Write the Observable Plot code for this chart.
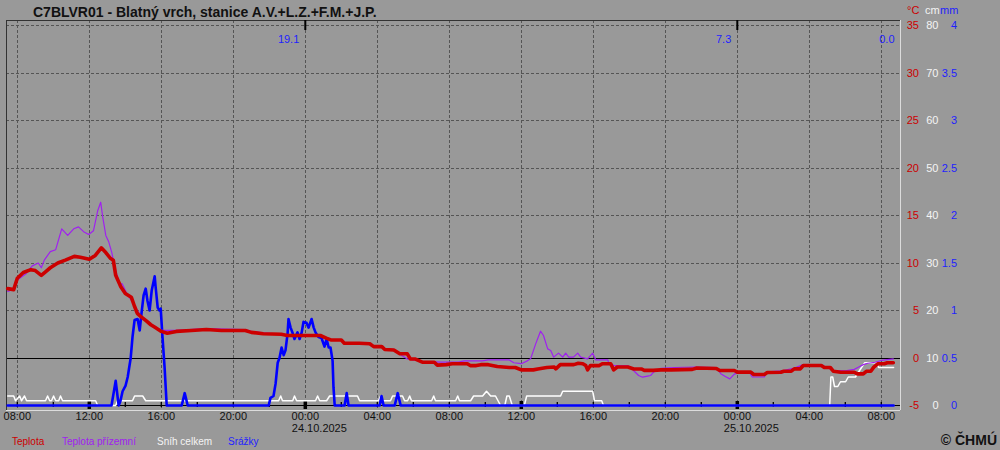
<!DOCTYPE html>
<html><head><meta charset="utf-8">
<script src="https://cdn.jsdelivr.net/npm/d3@7"></script>
<script src="https://cdn.jsdelivr.net/npm/@observablehq/plot@0.6"></script>
<style>
body{margin:0;background:#999;font-family:"Liberation Sans",Arial,sans-serif}
#wrap{width:1000px;height:450px;background:#999;overflow:hidden}
#top{position:relative;height:19px}
#title{position:absolute;left:33px;top:4px;font-weight:bold;font-size:14px;line-height:16px;color:#111;white-space:nowrap}
.unit{position:absolute;top:4px;font-size:11px;line-height:12px}
#chart{height:414px}
#chart svg{display:block}
#legend{position:relative;height:17px}
.lg{position:absolute;top:3px;font-size:10px;line-height:12px;white-space:nowrap}
#copy{position:absolute;right:3px;top:0;font-weight:bold;font-size:14px;line-height:14px;color:#111}
</style></head>
<body>
<div id="wrap">
  <div id="top">
    <div id="title">C7BLVR01 - Blatný vrch, stanice A.V.+L.Z.+F.M.+J.P.</div>
    <span class="unit" style="left:907px;color:#cc0000">°C</span>
    <span class="unit" style="left:925px;color:#f4f4f4">cm</span>
    <span class="unit" style="left:940px;color:#1f1fff">mm</span>
  </div>
  <div id="chart"></div>
  <div id="legend">
    <span class="lg" style="left:12px;color:#cc0000">Teplota</span>
    <span class="lg" style="left:62px;color:#a020f0">Teplota přízemní</span>
    <span class="lg" style="left:157px;color:#f4f4f4">Sníh celkem</span>
    <span class="lg" style="left:228px;color:#1f1fff">Srážky</span>
    <span id="copy">© ČHMÚ</span>
  </div>
</div>
<script>
// ---- data (times: "DD HH:MM", October 2025) ----
const teplota = [
["23 07:28",7.3],["23 07:48",7.2],["23 08:00",8.4],["23 08:20",9.0],["23 08:45",9.3],["23 09:00",9.2],["23 09:20",8.7],["23 09:35",9.1],["23 09:50",9.5],["23 10:15",10.0],["23 10:40",10.3],["23 11:10",10.7],["23 11:30",10.6],["23 12:00",10.4],["23 12:20",10.8],["23 12:40",11.6],["23 12:55",11.1],["23 13:10",10.5],["23 13:20",10.3],["23 13:28",8.7],["23 13:35",8.2],["23 13:45",7.5],["23 14:00",6.8],["23 14:20",6.4],["23 14:30",5.5],["23 14:40",4.7],["23 14:50",4.4],["23 15:10",3.9],["23 15:25",3.5],["23 15:40",3.2],["23 16:00",2.8],["23 16:20",2.6],["23 16:50",2.8],["23 17:40",2.9],["23 18:30",3.0],["23 19:20",2.9],["23 20:40",2.9],["23 21:00",2.7],["23 21:40",2.55],["23 22:40",2.5],["23 23:00",2.37],["24 00:50",2.37],["24 01:10",2.09],["24 01:25",1.9],["24 02:00",1.9],["24 02:10",1.56],["24 03:00",1.56],["24 03:35",1.5],["24 03:48",1.2],["24 04:15",1.2],["24 04:25",0.9],["24 04:55",0.85],["24 05:15",0.44],["24 05:40",0.44],["24 05:50",-0.1],["24 06:05",-0.1],["24 06:30",-0.44],["24 07:10",-0.45],["24 07:20",-0.75],["24 07:50",-0.7],["24 08:10",-0.6],["24 09:00",-0.6],["24 09:10",-0.8],["24 09:30",-0.8],["24 09:45",-0.7],["24 10:10",-0.7],["24 10:40",-0.9],["24 11:20",-1.0],["24 11:40",-1.0],["24 12:00",-1.25],["24 12:40",-1.25],["24 12:55",-1.15],["24 13:25",-1.0],["24 13:50",-0.95],["24 13:55",-1.15],["24 14:10",-0.7],["24 14:55",-0.7],["24 15:10",-0.55],["24 15:25",-0.6],["24 15:35",-0.8],["24 15:41",-1.25],["24 15:50",-0.8],["24 16:20",-0.8],["24 16:30",-0.6],["24 16:58",-0.6],["24 17:08",-1.25],["24 17:20",-0.95],["24 17:55",-0.95],["24 18:15",-1.15],["24 18:40",-1.15],["24 18:50",-1.3],["24 19:20",-1.3],["24 19:45",-1.25],["24 20:20",-1.25],["24 21:30",-1.2],["24 21:45",-1.05],["24 22:50",-1.1],["24 23:00",-1.3],["24 23:50",-1.32],["25 00:00",-1.49],["25 00:45",-1.49],["25 00:55",-1.74],["25 01:30",-1.74],["25 01:40",-1.53],["25 02:25",-1.5],["25 02:35",-1.39],["25 03:00",-1.39],["25 03:10",-1.14],["25 03:30",-1.14],["25 03:40",-0.79],["25 04:40",-0.79],["25 04:50",-1.0],["25 05:10",-1.0],["25 05:20",-1.39],["25 05:45",-1.5],["25 06:30",-1.5],["25 06:40",-1.67],["25 07:00",-1.67],["25 07:10",-1.4],["25 07:25",-1.4],["25 07:35",-0.96],["25 07:48",-0.61],["25 08:10",-0.61],["25 08:20",-0.5],["25 08:40",-0.5]
];
const teplotaPrizemni = [
["23 07:28",7.0],["23 07:45",7.2],["23 08:00",8.2],["23 08:30",8.9],["23 08:50",9.7],["23 09:10",10.0],["23 09:20",9.5],["23 09:30",10.3],["23 09:50",11.2],["23 10:08",11.4],["23 10:28",13.6],["23 10:48",12.9],["23 11:08",13.6],["23 11:24",13.8],["23 11:41",13.3],["23 11:58",13.0],["23 12:14",13.4],["23 12:28",15.5],["23 12:38",16.4],["23 12:44",15.0],["23 12:55",12.9],["23 13:05",12.2],["23 13:15",11.1],["23 13:25",9.5],["23 13:40",7.9],["23 13:50",7.8],["23 14:05",6.8],["23 14:30",5.6],["23 14:50",4.5],["23 15:25",3.6],["23 16:00",2.9],["23 16:50",2.9],["23 18:30",3.1],["23 20:40",3.0],["23 21:00",2.8],["23 21:40",2.65],["23 23:00",2.45],["24 00:50",2.45],["24 01:10",2.15],["24 01:25",1.95],["24 02:00",1.95],["24 02:10",1.6],["24 03:00",1.6],["24 03:35",1.55],["24 03:48",1.25],["24 04:15",1.25],["24 04:25",0.95],["24 04:55",0.9],["24 05:15",0.4],["24 05:40",-0.1],["24 06:00",-0.2],["24 06:30",-0.35],["24 07:30",-0.44],["24 08:30",-0.44],["24 08:50",-0.3],["24 09:50",-0.3],["24 10:10",-0.2],["24 11:20",-0.2],["24 11:35",-0.5],["24 12:00",-0.6],["24 12:20",-0.3],["24 12:31",-0.09],["24 12:48",1.49],["24 13:04",2.82],["24 13:14",2.37],["24 13:28",0.96],["24 13:38",0.79],["24 13:48",0.09],["24 14:04",0.51],["24 14:18",0.09],["24 14:28",0.51],["24 14:38",0.09],["24 14:54",0.09],["24 15:08",0.51],["24 15:18",0.09],["24 15:41",-0.09],["24 15:58",0.51],["24 16:08",-0.19],["24 16:48",-0.19],["24 16:51",-0.44],["24 17:08",-0.79],["24 17:54",-0.79],["24 18:04",-0.96],["24 18:14",-1.32],["24 18:31",-1.84],["24 18:44",-2.02],["24 19:01",-1.9],["24 19:11",-1.84],["24 19:21",-1.49],["24 19:28",-1.32],["24 19:45",-1.1],["24 20:30",-1.0],["24 21:40",-0.95],["24 22:50",-1.0],["24 23:05",-1.65],["24 23:20",-1.95],["24 23:35",-2.2],["24 23:50",-1.7],["25 00:10",-1.5],["25 00:40",-1.5],["25 00:50",-2.0],["25 01:30",-2.0],["25 01:40",-1.45],["25 02:30",-1.35],["25 03:10",-1.05],["25 03:40",-0.7],["25 04:40",-0.7],["25 04:55",-0.95],["25 05:20",-1.3],["25 06:00",-1.35],["25 06:30",-1.2],["25 06:45",-0.95],["25 07:00",-0.7],["25 07:15",-0.55],["25 07:40",-0.45],["25 08:00",-0.26],["25 08:40",-0.1]
];
const snihCelkem = [
["23 07:28",2],["23 07:48",2],["23 07:54",1],["23 08:08",2],["23 08:14",1],["23 08:24",2],["23 08:31",1],["23 09:34",1],["23 09:41",2],["23 09:48",1],["23 09:54",1],["23 10:01",2],["23 10:08",1],["23 10:18",1],["23 10:24",2],["23 10:31",1],["23 12:21",1],["23 12:28",0],["23 13:28",0],["23 13:34",1],["23 14:24",1],["23 14:31",2],["23 14:58",2],["23 15:08",1],["23 22:31",1],["23 22:38",2],["23 22:44",1],["23 23:18",1],["23 23:24",2],["23 23:31",1],["24 00:34",1],["24 00:41",2],["24 00:48",1],["24 01:11",1],["24 01:21",2],["24 02:54",2],["24 03:01",1],["24 04:04",1],["24 04:11",2],["24 04:18",1],["24 04:44",1],["24 04:51",2],["24 05:24",2],["24 05:31",1],["24 05:41",1],["24 05:48",2],["24 05:54",1],["24 07:01",1],["24 07:08",2],["24 07:14",1],["24 08:21",1],["24 08:28",2],["24 08:34",1],["24 09:11",1],["24 09:21",2],["24 09:51",2],["24 10:04",3],["24 10:18",2],["24 10:34",2],["24 10:51",0],["24 11:05",0],["24 11:12",2],["24 11:20",2],["24 11:30",0],["24 12:10",0],["24 12:18",2],["24 14:11",2],["24 14:18",3],["24 15:58",3],["24 16:04",1],["24 16:28",1],["24 16:34",0],["25 05:08",0],["25 05:12",6],["25 05:18",6],["25 05:24",4],["25 05:35",4],["25 05:44",5],["25 06:01",5],["25 06:10",6],["25 06:34",6],["25 06:44",7],["25 06:54",8],["25 07:05",9],["25 07:44",9],["25 07:51",8],["25 08:41",8]
];
const srazky = [
["23 07:28",0],["23 13:14",0],["23 13:21",0.13],["23 13:28",0.26],["23 13:34",0.1],["23 13:38",0],["23 13:44",0.05],["23 13:51",0.15],["23 14:01",0.21],["23 14:08",0.3],["23 14:18",0.5],["23 14:24",0.72],["23 14:31",0.9],["23 14:41",0.91],["23 14:48",0.79],["23 14:54",0.97],["23 15:01",1.16],["23 15:08",1.23],["23 15:14",1.1],["23 15:21",1.0],["23 15:28",1.21],["23 15:38",1.36],["23 15:41",1.25],["23 15:48",1.03],["23 15:54",1.0],["23 15:58",1.02],["23 16:04",0.72],["23 16:11",0.4],["23 16:18",0],["23 17:08",0],["23 17:18",0.13],["23 17:28",0],["23 21:58",0],["23 22:04",0.08],["23 22:14",0.1],["23 22:21",0.23],["23 22:28",0.45],["23 22:34",0.5],["23 22:41",0.61],["23 22:48",0.53],["23 22:54",0.58],["23 23:01",0.76],["23 23:04",0.91],["23 23:11",0.82],["23 23:18",0.76],["23 23:24",0.7],["23 23:34",0.77],["23 23:41",0.7],["23 23:48",0.77],["23 23:54",0.88],["24 00:04",0.87],["24 00:11",0.82],["24 00:21",0.91],["24 00:28",0.82],["24 00:34",0.77],["24 00:44",0.72],["24 00:54",0.71],["24 01:04",0.62],["24 01:11",0.7],["24 01:18",0.61],["24 01:24",0.61],["24 01:31",0.47],["24 01:34",0.19],["24 01:38",0],["24 02:11",0],["24 02:18",0.13],["24 02:24",0],["24 04:08",0],["24 04:14",0.1],["24 04:21",0],["24 04:58",0],["24 05:08",0.13],["24 05:18",0],["25 08:41",0]
];
const precipDayEnds = ["24 00:00","25 00:00","26 00:00"];
const precipDayTotals = ["19.1","7.3","0.0"];
const tempTicks = [-5,0,5,10,15,20,25,30,35];
const cmTicks = [0,10,20,30,40,50,60,70,80];
const mmTicks = [0,0.5,1,1.5,2,2.5,3,3.5,4];
const timeStart = "23 07:24", timeEnd = "25 09:04";

// ---- build ----
const parse = s => new Date(`2025-10-${s.slice(0,2)}T${s.slice(3)}:00Z`);
const rows = arr => arr.map(([t, v]) => ({t: parse(t), v}));
const xStart = parse(timeStart), xEnd = parse(timeEnd);
const pad = 5 / 9.5;
const yMin = tempTicks[0] - pad, yMax = tempTicks[tempTicks.length - 1] + pad;
const cmToT = c => c / 2 - 5;       // 0 cm -> -5 °C, 80 cm -> 35 °C
const mmToT = m => m * 10 - 5;      // 0 mm -> -5 °C, 4 mm -> 35 °C

const grid4h = d3.utcHour.every(4).range(xStart, xEnd);
const ticks2h = d3.utcHour.every(2).range(xStart, xEnd);
const ticks12h = d3.utcHour.every(12).range(xStart, xEnd);
const midnights = d3.utcDay.range(xStart, xEnd);
const fmtHM = d3.utcFormat("%H:%M");
const fmtDate = d3.utcFormat("%d.%m.%Y");
const dailyTotals = precipDayEnds.map((d, i) => ({t: new Date(Math.min(+parse(d), +xEnd)), label: precipDayTotals[i]}));

const FONT = '"Liberation Sans", Arial, sans-serif';
const grid = {stroke: "#555", strokeDasharray: "3,2", strokeWidth: 1, shapeRendering: "crispEdges"};

const chart = Plot.plot({
  width: 1000, height: 414,
  marginLeft: 6, marginRight: 100, marginTop: 1, marginBottom: 23,
  style: {background: "transparent", fontFamily: FONT, overflow: "visible"},
  x: {type: "utc", domain: [xStart, xEnd], axis: null},
  y: {domain: [yMin, yMax], axis: null},
  marks: [
    Plot.ruleY(tempTicks.filter(d => d > 0), grid),
    Plot.ruleX(grid4h, {x: d => d, ...grid}),
    Plot.ruleY([0, -5], {stroke: "#000", strokeWidth: 1, shapeRendering: "crispEdges"}),
    // frame: dark top/left, light bottom/right
    Plot.ruleY([yMax], {stroke: "#333", shapeRendering: "crispEdges"}),
    Plot.ruleX([xStart], {stroke: "#333", shapeRendering: "crispEdges"}),
    Plot.ruleY([yMin], {stroke: "#dcdcdc", shapeRendering: "crispEdges"}),
    Plot.ruleX([xEnd], {stroke: "#dcdcdc", shapeRendering: "crispEdges"}),
    // bottom ticks
    Plot.tickX(ticks2h, {x: d => d, stroke: "#000", strokeWidth: 1.3, insetTop: 382, insetBottom: 3}),
    Plot.tickX(ticks12h, {x: d => d, stroke: "#000", strokeWidth: 3.5, insetTop: 381, insetBottom: 1}),
    Plot.tickX(midnights, {x: d => d, stroke: "#000", strokeWidth: 2, insetTop: 0, insetBottom: 380}),
    // series
    Plot.line(rows(snihCelkem), {x: "t", y: d => cmToT(d.v), stroke: "#ffffff", strokeWidth: 1.5}),
    Plot.line(rows(srazky), {x: "t", y: d => mmToT(d.v), stroke: "#0000ff", strokeWidth: 2.6}),
    Plot.line(rows(teplotaPrizemni), {x: "t", y: "v", stroke: "#a020f0", strokeWidth: 1.2}),
    Plot.line(rows(teplota), {x: "t", y: "v", stroke: "#cc0000", strokeWidth: 3.6}),
    // daily precipitation totals
    Plot.text(dailyTotals, {x: "t", text: "label", frameAnchor: "top", dy: 15, dx: -6, textAnchor: "end", fill: "#1f1fff", fontSize: 11}),
    // x labels
    Plot.text(grid4h, {x: d => d, text: d => fmtHM(d), frameAnchor: "bottom", lineAnchor: "top", dy: 1.5, fill: "#111", fontSize: 11}),
    Plot.text(midnights, {x: d => d, text: d => fmtDate(d), frameAnchor: "bottom", lineAnchor: "top", dy: 13.3, dx: -13.5, textAnchor: "start", fill: "#111", fontSize: 11}),
    // right-hand scales
    Plot.text(tempTicks, {y: d => d, text: d => String(d), frameAnchor: "right", dx: 18.5, textAnchor: "end", fill: "#cc0000", fontSize: 11}),
    Plot.text(cmTicks, {y: d => cmToT(d), text: d => String(d), frameAnchor: "right", dx: 38, textAnchor: "end", fill: "#f4f4f4", fontSize: 11}),
    Plot.text(mmTicks, {y: d => mmToT(d), text: d => String(d), frameAnchor: "right", dx: 56.5, textAnchor: "end", fill: "#1f1fff", fontSize: 11})
  ]
});
document.getElementById("chart").appendChild(chart);
</script>
</body></html>
